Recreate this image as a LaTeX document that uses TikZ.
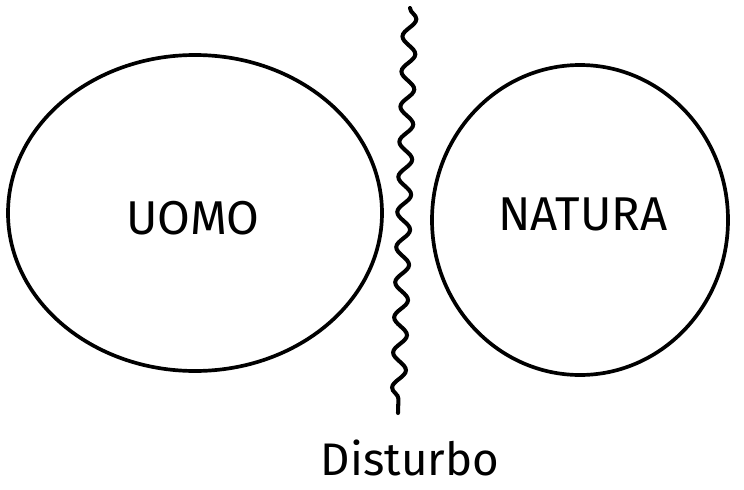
\documentclass[tikz,border=0pt]{standalone}
\usepackage{fontspec}
\setmainfont{Fira Sans}
\usepackage{tikz}
\usetikzlibrary{positioning,decorations.pathmorphing}

\begin{document}
\begin{tikzpicture}[
  x=0.02cm,y=-0.02cm,
  every node/.style={font=\fontsize{27}{30}\selectfont,align=center},
  blob/.style={line width=2.1pt},
  wave/.style={line width=2.3pt,line cap=round,decorate,
    decoration={snake,segment length=20pt,amplitude=3.8pt}}
]
  \useasboundingbox (0,0) rectangle (744,490);
  % two spheres
  \draw[blob] (195,213) ellipse [x radius=187,y radius=158];
  \draw[blob] (580,220) ellipse [x radius=148,y radius=155];
  \node (uomo) at (193,218) {UOMO};
  \node (natura) at (583,214) {NATURA};
  % the boundary
  \coordinate (top) at (410,8);
  \coordinate (bot) at (398,413);
  \draw[wave] (top) -- (bot);
  \node[font=\fontsize{26}{28}\selectfont] (disturbo) at (410,458) {Disturbo};
\end{tikzpicture}
\end{document}
